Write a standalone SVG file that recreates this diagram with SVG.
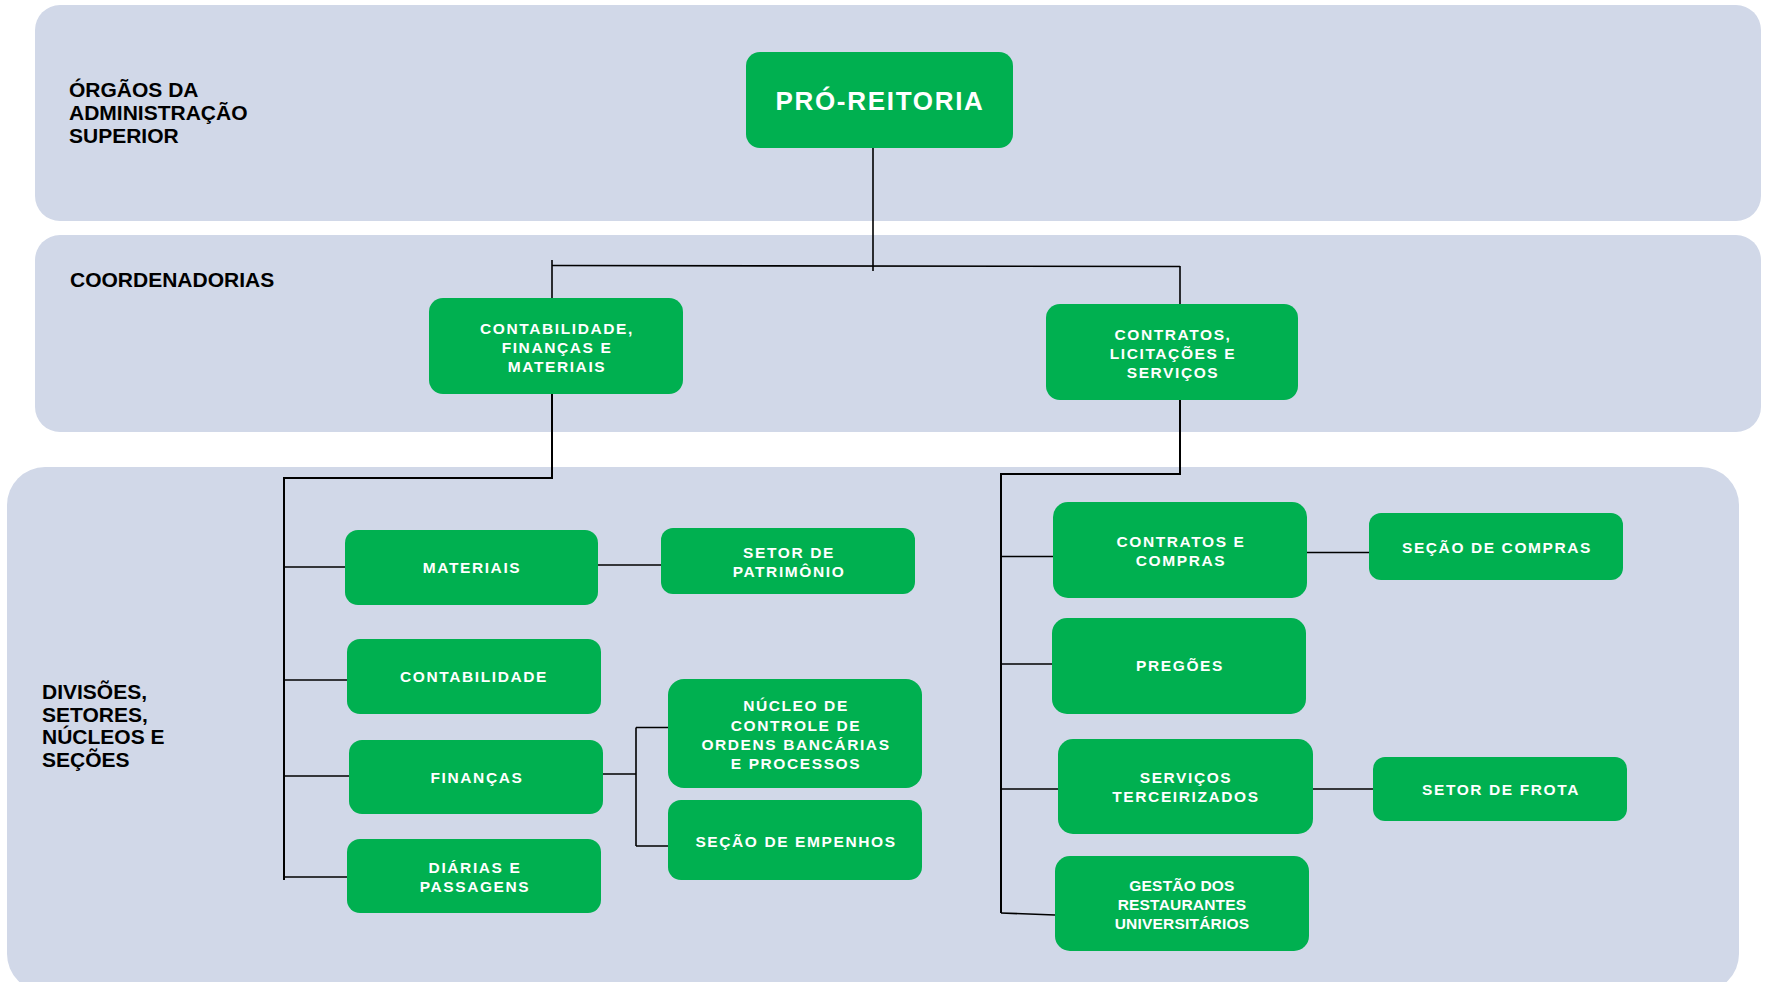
<svg xmlns="http://www.w3.org/2000/svg" width="1769" height="982" viewBox="0 0 1769 982">
<style>
.band{fill:#D1D8E8}
.box{fill:#00B050}
.lbl{font-family:"Liberation Sans",Arial,sans-serif;font-weight:bold;font-size:21px;fill:#000}
.t{font-family:"Liberation Sans",Arial,sans-serif;font-weight:bold;font-size:15.5px;fill:#fff;text-anchor:middle;letter-spacing:1.6px}
.big{font-family:"Liberation Sans",Arial,sans-serif;font-weight:bold;font-size:26px;fill:#fff;text-anchor:middle;letter-spacing:1.7px}
.c{fill:none;stroke:#000;stroke-width:1.6}
.c2{fill:none;stroke:#000;stroke-width:2}
</style>
<rect width="1769" height="982" fill="#fff"/>
<g id="bands">
<rect class="band" x="35" y="5" width="1726" height="216" rx="25"/>
<rect class="band" x="35" y="235" width="1726" height="197" rx="25"/>
<rect class="band" x="7" y="467" width="1732" height="525" rx="38"/>
<text class="lbl" x="69"><tspan x="69" y="97">ÓRGÃOS DA</tspan><tspan x="69" y="120">ADMINISTRAÇÃO</tspan><tspan x="69" y="143">SUPERIOR</tspan></text>
<text class="lbl" x="70" y="287">COORDENADORIAS</text>
<text class="lbl" x="42"><tspan x="42" y="699">DIVISÕES,</tspan><tspan x="42" y="721.5">SETORES,</tspan><tspan x="42" y="744">NÚCLEOS E</tspan><tspan x="42" y="766.5">SEÇÕES</tspan></text>
</g>
<g id="connectors">
<path class="c" d="M873 148V271"/>
<path class="c" d="M552 265.5L1180 266.5"/>
<path class="c" d="M552 260V298"/>
<path class="c" d="M1180 266V304"/>
<path class="c2" d="M552 394V478H284V880"/>
<path class="c" d="M284 567H345M284 680H347M284 776H349M284 877H347"/>
<path class="c" d="M598 565H661"/>
<path class="c" d="M603 774H636M636 727.5V846M636 727.5H668M636 846H668"/>
<path class="c2" d="M1180 400V474H1001V913"/>
<path class="c" d="M1001 556.5H1053M1001 664H1052M1001 789H1058M1001 913L1055 915"/>
<path class="c" d="M1307 552.5H1369"/>
<path class="c" d="M1313 789H1373"/>
</g>
<g id="pro-reitoria">
<rect class="box" x="746" y="52" width="267" height="96" rx="14"/>
<text class="big" x="880" y="110">PRÓ-REITORIA</text>
</g>
<g id="cfm">
<rect class="box" x="429" y="298" width="254" height="96" rx="14"/>
<text class="t"><tspan x="557" y="334">CONTABILIDADE,</tspan><tspan x="557" y="353">FINANÇAS E</tspan><tspan x="557" y="372">MATERIAIS</tspan></text>
</g>
<g id="cls">
<rect class="box" x="1046" y="304" width="252" height="96" rx="14"/>
<text class="t"><tspan x="1173" y="340">CONTRATOS,</tspan><tspan x="1173" y="359">LICITAÇÕES E</tspan><tspan x="1173" y="378">SERVIÇOS</tspan></text>
</g>
<g id="materiais">
<rect class="box" x="345" y="530" width="253" height="75" rx="13"/>
<text class="t" x="472" y="573">MATERIAIS</text>
</g>
<g id="setor-patrimonio">
<rect class="box" x="661" y="528" width="254" height="66" rx="12"/>
<text class="t"><tspan x="789" y="558">SETOR DE</tspan><tspan x="789" y="577">PATRIMÔNIO</tspan></text>
</g>
<g id="contabilidade">
<rect class="box" x="347" y="639" width="254" height="75" rx="13"/>
<text class="t" x="474" y="682">CONTABILIDADE</text>
</g>
<g id="financas">
<rect class="box" x="349" y="740" width="254" height="74" rx="13"/>
<text class="t" x="477" y="783">FINANÇAS</text>
</g>
<g id="diarias">
<rect class="box" x="347" y="839" width="254" height="74" rx="13"/>
<text class="t"><tspan x="475" y="873">DIÁRIAS E</tspan><tspan x="475" y="892">PASSAGENS</tspan></text>
</g>
<g id="nucleo">
<rect class="box" x="668" y="679" width="254" height="109" rx="16"/>
<text class="t"><tspan x="796" y="711">NÚCLEO DE</tspan><tspan x="796" y="730.5">CONTROLE DE</tspan><tspan x="796" y="750">ORDENS BANCÁRIAS</tspan><tspan x="796" y="769">E PROCESSOS</tspan></text>
</g>
<g id="secao-empenhos">
<rect class="box" x="668" y="800" width="254" height="80" rx="13"/>
<text class="t" x="796" y="847">SEÇÃO DE EMPENHOS</text>
</g>
<g id="contratos-compras">
<rect class="box" x="1053" y="502" width="254" height="96" rx="15"/>
<text class="t"><tspan x="1181" y="547">CONTRATOS E</tspan><tspan x="1181" y="566">COMPRAS</tspan></text>
</g>
<g id="secao-compras">
<rect class="box" x="1369" y="513" width="254" height="67" rx="12"/>
<text class="t" x="1497" y="553">SEÇÃO DE COMPRAS</text>
</g>
<g id="pregoes">
<rect class="box" x="1052" y="618" width="254" height="96" rx="15"/>
<text class="t" x="1180" y="671">PREGÕES</text>
</g>
<g id="servicos-terceirizados">
<rect class="box" x="1058" y="739" width="255" height="95" rx="15"/>
<text class="t"><tspan x="1186" y="783">SERVIÇOS</tspan><tspan x="1186" y="802">TERCEIRIZADOS</tspan></text>
</g>
<g id="setor-frota">
<rect class="box" x="1373" y="757" width="254" height="64" rx="12"/>
<text class="t" x="1501" y="795">SETOR DE FROTA</text>
</g>
<g id="gestao-ru">
<rect class="box" x="1055" y="856" width="254" height="95" rx="15"/>
<text class="t" style="letter-spacing:0.2px"><tspan x="1182" y="891">GESTÃO DOS</tspan><tspan x="1182" y="910">RESTAURANTES</tspan><tspan x="1182" y="929">UNIVERSITÁRIOS</tspan></text>
</g>
</svg>
